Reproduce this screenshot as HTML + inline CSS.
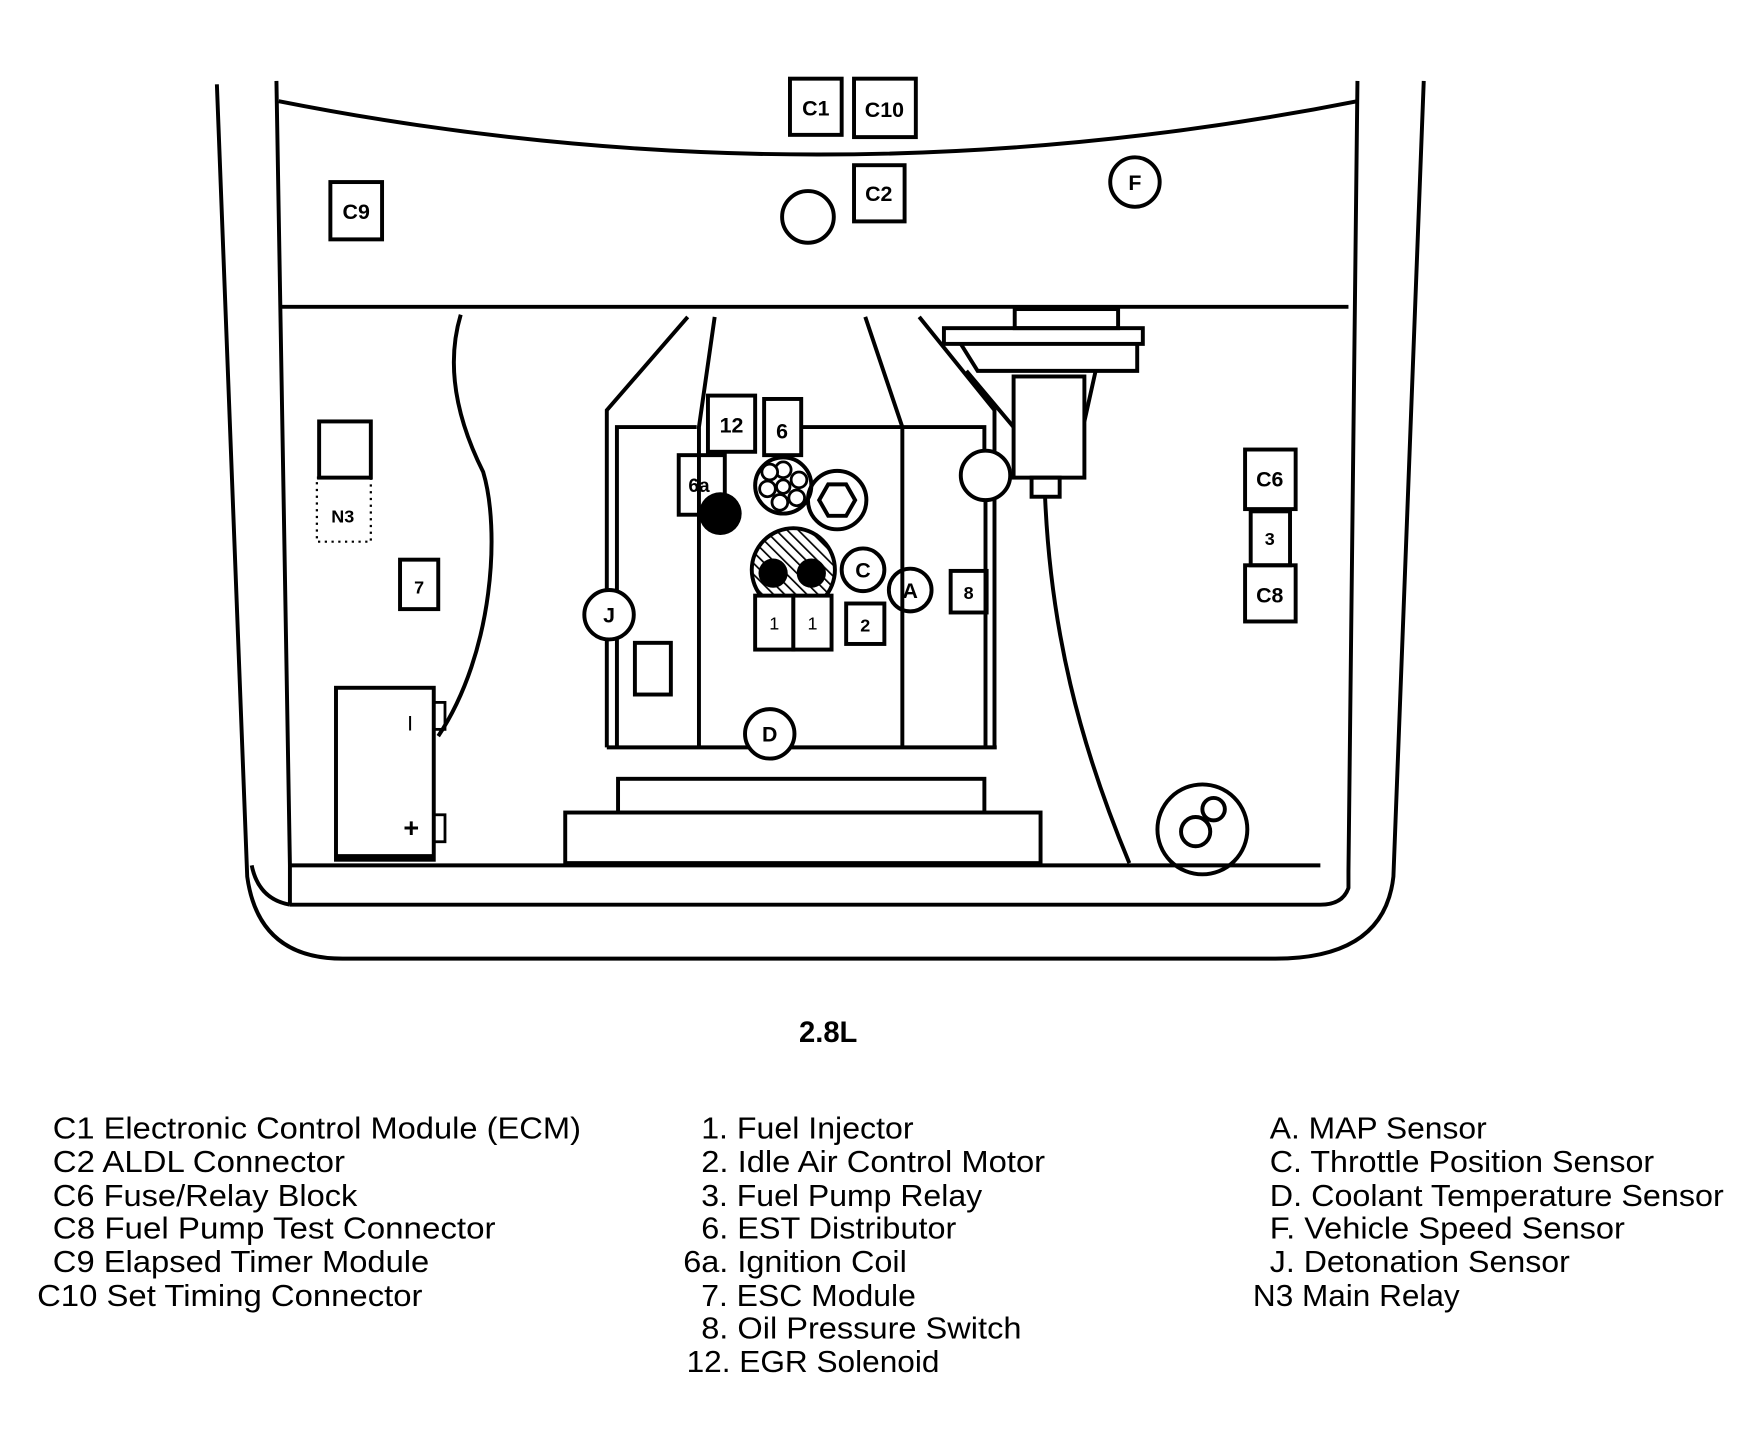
<!DOCTYPE html>
<html><head><style>html,body{margin:0;padding:0;background:#fff}svg{display:block}</style></head>
<body>
<svg width="1753" height="1443" viewBox="0 0 1560 1284" preserveAspectRatio="none" xmlns="http://www.w3.org/2000/svg">
<defs>
<pattern id="h" width="7" height="7" patternUnits="userSpaceOnUse" patternTransform="rotate(-45)"><rect width="7" height="7" fill="#fff"/><line x1="0" y1="0" x2="0" y2="7" stroke="#000" stroke-width="3"/></pattern>
</defs>
<g fill="none" stroke="#000" stroke-width="3.5">
<path d="M193,75 L220,780 Q230,853 305,853 L1135,853 Q1232,853 1240,780 L1267,72"/>
<path d="M246,72 L258,770 L258,805 M1208,72 L1200,775 L1200,790 Q1195,805 1175,805 L258,805 M258,805 Q230,800 224,770"/>
<path d="M258,770 L1175,770"/>
<path d="M248,90 Q728,185 1208,90"/>
<path d="M248,273 L1200,273"/>
<rect x="703" y="70" width="46" height="50"/>
<rect x="760" y="70" width="55" height="52"/>
<rect x="760" y="147" width="45" height="50"/>
<rect x="294" y="162" width="46" height="51"/>
<circle cx="719" cy="193" r="23"/>
<circle cx="1010" cy="162" r="22"/>
<path d="M410,280 C395,330 410,380 430,420 C445,470 440,580 390,655"/>
<rect x="284" y="375" width="46" height="50"/>
<rect x="282" y="425" width="48" height="57" stroke-width="2" stroke-dasharray="2,4"/>
<rect x="356" y="498" width="34" height="44"/>
<rect x="299" y="612" width="87" height="153"/>
<path d="M299,763 L386,763" stroke-width="6"/>
<rect x="386" y="625" width="10" height="24" stroke-width="2.5"/>
<rect x="386" y="725" width="10" height="24" stroke-width="2.5"/>
<path d="M612,282 L540,365 L540,665 M636,282 L622,380 L622,665 M770,282 L803,380 L803,665 M818,282 L885,365 L885,665"/>
<path d="M549,665 L549,380 L620,380 M713,380 L876,380 L876,400 M540,665 L887,665 M877,445 L877,665"/>
<rect x="630" y="352" width="42" height="50"/>
<rect x="680" y="355" width="33" height="50"/>
<rect x="604" y="405" width="41" height="53"/>
<circle cx="697" cy="432" r="25"/>
<circle cx="745" cy="445" r="26"/>
<path d="M737,431 L753,431 L761,445 L753,459 L737,459 L729,445 Z"/>
<circle cx="706" cy="507" r="37" fill="url(#h)"/>
<circle cx="768" cy="507" r="19"/>
<circle cx="810" cy="525" r="19"/>
<rect x="846" y="508" width="32" height="37"/>
<rect x="753" y="537" width="34" height="36"/>
<rect x="672" y="530" width="34" height="48" fill="#fff"/>
<rect x="706" y="530" width="34" height="48" fill="#fff"/>
<circle cx="542" cy="547" r="22" fill="#fff"/>
<rect x="565" y="572" width="32" height="46"/>
<circle cx="685" cy="653" r="22" fill="#fff"/>
<circle cx="877" cy="423" r="22" fill="#fff"/>
<rect x="550" y="693" width="326" height="30"/>
<rect x="503" y="723" width="423" height="45"/>
<rect x="903" y="275" width="92" height="17"/>
<rect x="840" y="292" width="177" height="14"/>
<path d="M855,306 L870,330 L1012,330 L1012,306"/>
<path d="M860,330 L902,380 M975,330 L965,375"/>
<rect x="902" y="335" width="63" height="90" fill="#fff"/>
<rect x="918" y="425" width="25" height="17"/>
<path d="M930,442 C935,560 960,660 1005,768"/>
<rect x="1108" y="400" width="45" height="53"/>
<rect x="1113" y="455" width="35" height="48"/>
<rect x="1108" y="503" width="45" height="50"/>
<circle cx="1070" cy="738" r="40"/>
<circle cx="1064" cy="740" r="13"/>
<circle cx="1080" cy="720" r="10"/>
</g>
<g fill="#000">
<circle cx="641" cy="457" r="19"/>
<circle cx="688" cy="510" r="13"/>
<circle cx="722" cy="510" r="13"/>
</g>
<g fill="#fff" stroke="#000" stroke-width="2.5">
<circle cx="697" cy="418" r="7"/><circle cx="711" cy="427" r="7"/><circle cx="709" cy="443" r="7"/>
<circle cx="694" cy="447" r="7"/><circle cx="683" cy="435" r="7"/><circle cx="685" cy="420" r="7"/><circle cx="697" cy="433" r="6"/>
</g>
<g font-family="Liberation Sans, sans-serif" font-weight="bold" font-size="19" text-anchor="middle">
<text x="726" y="103">C1</text><text x="787" y="104">C10</text><text x="782" y="179">C2</text>
<text x="317" y="195">C9</text><text x="1010" y="169">F</text><text x="305" y="465" font-size="16">N3</text>
<text x="373" y="528" font-size="16">7</text><text x="365" y="650" font-weight="normal">I</text><text x="366" y="745" font-size="24">+</text>
<text x="651" y="385">12</text><text x="696" y="390">6</text><text x="622" y="438" font-size="17">6a</text>
<text x="768" y="514">C</text><text x="810" y="532">A</text><text x="862" y="533" font-size="16">8</text>
<text x="770" y="562" font-size="16">2</text><text x="689" y="560" font-size="16" font-weight="normal">1</text><text x="723" y="560" font-size="16" font-weight="normal">1</text>
<text x="542" y="554">J</text><text x="685" y="660">D</text>
<text x="1130" y="433">C6</text><text x="1130" y="485" font-size="16">3</text><text x="1130" y="536">C8</text>
<text x="737" y="927" font-size="26">2.8L</text>
</g>
<g font-family="Liberation Sans, sans-serif" font-size="27" lengthAdjust="spacingAndGlyphs">
<text x="47" y="1013" textLength="470" lengthAdjust="spacingAndGlyphs">C1 Electronic Control Module (ECM)</text>
<text x="47" y="1043" textLength="260" lengthAdjust="spacingAndGlyphs">C2 ALDL Connector</text>
<text x="47" y="1073" textLength="271" lengthAdjust="spacingAndGlyphs">C6 Fuse/Relay Block</text>
<text x="47" y="1102" textLength="394" lengthAdjust="spacingAndGlyphs">C8 Fuel Pump Test Connector</text>
<text x="47" y="1132" textLength="335" lengthAdjust="spacingAndGlyphs">C9 Elapsed Timer Module</text>
<text x="33" y="1162" textLength="343" lengthAdjust="spacingAndGlyphs">C10 Set Timing Connector</text>
<text x="624" y="1013" textLength="189" lengthAdjust="spacingAndGlyphs">1. Fuel Injector</text>
<text x="624" y="1043" textLength="306" lengthAdjust="spacingAndGlyphs">2. Idle Air Control Motor</text>
<text x="624" y="1073" textLength="250" lengthAdjust="spacingAndGlyphs">3. Fuel Pump Relay</text>
<text x="624" y="1102" textLength="227" lengthAdjust="spacingAndGlyphs">6. EST Distributor</text>
<text x="608" y="1132" textLength="199" lengthAdjust="spacingAndGlyphs">6a. Ignition Coil</text>
<text x="624" y="1162" textLength="191" lengthAdjust="spacingAndGlyphs">7. ESC Module</text>
<text x="624" y="1191" textLength="285" lengthAdjust="spacingAndGlyphs">8. Oil Pressure Switch</text>
<text x="611" y="1221" textLength="225" lengthAdjust="spacingAndGlyphs">12. EGR Solenoid</text>
<text x="1130" y="1013" textLength="193" lengthAdjust="spacingAndGlyphs">A. MAP Sensor</text>
<text x="1130" y="1043" textLength="342" lengthAdjust="spacingAndGlyphs">C. Throttle Position Sensor</text>
<text x="1130" y="1073" textLength="404" lengthAdjust="spacingAndGlyphs">D. Coolant Temperature Sensor</text>
<text x="1130" y="1102" textLength="316" lengthAdjust="spacingAndGlyphs">F. Vehicle Speed Sensor</text>
<text x="1130" y="1132" textLength="267" lengthAdjust="spacingAndGlyphs">J. Detonation Sensor</text>
<text x="1115" y="1162" textLength="184" lengthAdjust="spacingAndGlyphs">N3 Main Relay</text>
</g>
</svg>
</body></html>
